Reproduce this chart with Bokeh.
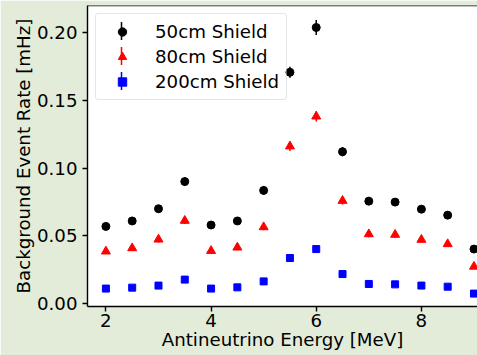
from bokeh.plotting import figure
from bokeh.models import (Range1d, FixedTicker, NumeralTickFormatter, Legend,
                          LegendItem, ColumnDataSource, Span, BoxAnnotation)
from bokeh.embed import file_html
from bokeh.resources import INLINE

# ---- data ----
energy = [2.0, 2.5, 3.0, 3.5, 4.0, 4.5, 5.0, 5.5, 6.0, 6.5, 7.0, 7.5, 8.0, 8.5, 9.0]

rate_50 = [0.057, 0.061, 0.070, 0.090, 0.058, 0.061, 0.0835, 0.1705, 0.2035, 0.112,
           0.0756, 0.0749, 0.0697, 0.0653, 0.0403]
err_50 = [0.0025, 0.0026, 0.0028, 0.0032, 0.0025, 0.0026, 0.0030, 0.0040, 0.0056, 0.0034,
          0.0028, 0.0028, 0.0027, 0.0026, 0.0020]

rate_80 = [0.0386, 0.041, 0.0474, 0.0612, 0.039, 0.0415, 0.0565, 0.116, 0.138, 0.0759,
           0.0513, 0.0509, 0.0472, 0.044, 0.0274]
err_80 = [0.0020, 0.0020, 0.0022, 0.0025, 0.0020, 0.0020, 0.0024, 0.0034, 0.0037, 0.0028,
          0.0023, 0.0023, 0.0022, 0.0021, 0.0017]

rate_200 = [0.0112, 0.0119, 0.0134, 0.0178, 0.0112, 0.0121, 0.0165, 0.0337, 0.0403, 0.0219,
            0.0146, 0.0143, 0.0134, 0.0126, 0.0075]
err_200 = [0.0011, 0.0011, 0.0012, 0.0013, 0.0011, 0.0011, 0.0013, 0.0018, 0.0020, 0.0015,
           0.0012, 0.0012, 0.0012, 0.0011, 0.0009]

labels = ["50cm Shield", "80cm Shield", "200cm Shield"]
colors = ["black", "red", "blue"]
markers = ["circle", "triangle", "square"]

x_ticks = [2, 4, 6, 8]
y_ticks = [0.00, 0.05, 0.10, 0.15, 0.20]

x_min, x_max = 1.65, 9.067
y_min, y_max = -0.002, 0.2197

FONT = "DejaVu Sans"
FS = "18.2px"
BORDER_TOP, BORDER_BOTTOM = 5, 49

p = figure(width=477, height=355, output_backend="svg", toolbar_location=None,
           x_range=Range1d(x_min, x_max), y_range=Range1d(y_min, y_max),
           min_border_left=87, min_border_right=0,
           min_border_top=BORDER_TOP, min_border_bottom=BORDER_BOTTOM)

p.background_fill_color = "white"
p.border_fill_color = "#e2ecd9"
p.outline_line_color = None
p.grid.visible = False

# vertical error-bar strokes for the legend handles (screen units, frame-relative)
frame_h = 355 - BORDER_TOP - BORDER_BOTTOM
for i, col in enumerate(colors):
    cy = frame_h - (8 + 7 + 10.5 + i * 25)
    p.add_layout(BoxAnnotation(left=33.25, right=34.75, bottom=cy - 9, top=cy + 9,
                               left_units="screen", right_units="screen",
                               top_units="screen", bottom_units="screen",
                               fill_color=col, fill_alpha=1.0, line_color=None))

series = [(rate_50, err_50), (rate_80, err_80), (rate_200, err_200)]
sizes = [8, 9, 7]
items = []
for (rate, err), lab, col, mk, sz in zip(series, labels, colors, markers, sizes):
    src = ColumnDataSource(dict(
        x=energy, y=rate,
        lo=[r - e for r, e in zip(rate, err)],
        hi=[r + e for r, e in zip(rate, err)]))
    p.segment(x0="x", y0="lo", x1="x", y1="hi", source=src, line_color=col, line_width=1.5)
    r = p.scatter(x="x", y="y", source=src, marker=mk, size=sz,
                  fill_color=col, line_color=col)
    items.append(LegendItem(label=lab, renderers=[r]))

# top spine
p.add_layout(Span(location=y_max, dimension="width", line_color="black", line_width=1.4))

# axes
for ax in (p.xaxis[0], p.yaxis[0]):
    ax.axis_line_width = 1.4
    ax.major_tick_line_width = 1.4
    ax.major_tick_in = 0
    ax.major_tick_out = 5
    ax.minor_tick_line_color = None
    ax.major_label_text_font = FONT
    ax.major_label_text_font_size = FS
    ax.major_label_text_color = "black"
    ax.axis_label_text_font = FONT
    ax.axis_label_text_font_size = FS
    ax.axis_label_text_font_style = "normal"
    ax.axis_label_text_color = "black"

p.xaxis.ticker = FixedTicker(ticks=x_ticks)
p.yaxis.ticker = FixedTicker(ticks=y_ticks)
p.yaxis.formatter = NumeralTickFormatter(format="0.00")
p.xaxis.axis_label = "Antineutrino Energy [MeV]"
p.yaxis.axis_label = "Background Event Rate [mHz]"
p.xaxis.major_label_standoff = 2
p.yaxis.major_label_standoff = 5
p.xaxis.axis_label_standoff = -1
p.yaxis.axis_label_standoff = 0

legend = Legend(items=items, location="top_left", margin=8, padding=7, spacing=4,
                glyph_width=38, glyph_height=21, label_height=21, label_standoff=14,
                label_text_font=FONT, label_text_font_size=FS, label_text_color="black",
                border_line_color="#cccccc", border_line_width=1,
                background_fill_color="white", background_fill_alpha=0.0)
if "border_radius" in Legend.properties():
    legend.border_radius = 3
p.add_layout(legend)

open("out.html", "w").write(file_html(p, INLINE))
